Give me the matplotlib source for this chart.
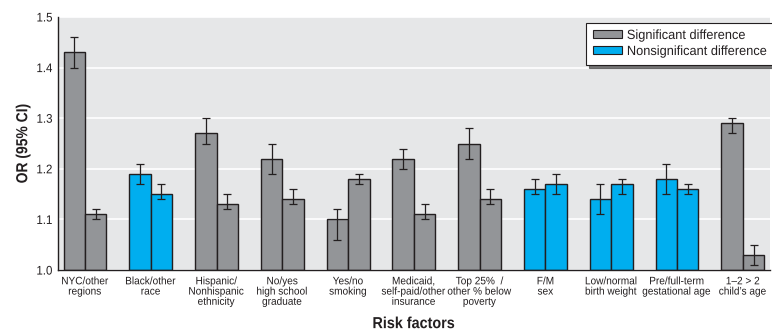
#!/usr/bin/env python3

# Odds ratios (95% CI) by risk factor, two bars per factor
import numpy as np
import matplotlib.pyplot as plt
from matplotlib import patheffects
from matplotlib.transforms import Affine2D

plt.rcParams['font.family'] = ['Liberation Sans', 'DejaVu Sans']

# Data
FACTORS = ["NYC/other\nregions", "Black/other\nrace", "Hispanic/\nNonhispanic\nethnicity",
           "No/yes\nhigh school\ngraduate", "Yes/no\nsmoking", "Medicaid,\nself-paid/other\ninsurance",
           "Top 25%  /\nother % below\npoverty", "F/M\nsex", "Low/normal\nbirth weight",
           "Pre/full-term\ngestational age", "1\u20132 > 2\nchild\u2019s age"]
OR_A = [1.43, 1.19, 1.27, 1.22, 1.10, 1.22, 1.25, 1.16, 1.14, 1.18, 1.29]
LO_A = [1.40, 1.17, 1.25, 1.19, 1.06, 1.20, 1.22, 1.15, 1.11, 1.15, 1.27]
HI_A = [1.46, 1.21, 1.30, 1.25, 1.12, 1.24, 1.28, 1.18, 1.17, 1.21, 1.30]
OR_B = [1.11, 1.15, 1.13, 1.14, 1.18, 1.11, 1.14, 1.17, 1.17, 1.16, 1.03]
LO_B = [1.10, 1.14, 1.12, 1.13, 1.17, 1.10, 1.13, 1.15, 1.15, 1.15, 1.01]
HI_B = [1.12, 1.17, 1.15, 1.16, 1.19, 1.13, 1.16, 1.19, 1.18, 1.17, 1.05]
SIGNIFICANT = [True, False, True, True, True, True, True, False, False, False, True]
YTICKS = [1.0, 1.1, 1.2, 1.3, 1.4, 1.5]
LEGEND_LABELS = ["Significant difference", "Nonsignificant difference"]

GRAY = "#939598"
BLUE = "#00aeef"
EDGE = "#231f20"


class Condense(patheffects.AbstractPathEffect):
    '''Squeeze text along its reading direction (the original uses a condensed typeface).'''

    def __init__(self, s=0.9, anchor="center", vertical=False):
        super().__init__()
        self.s = s
        self.anchor = anchor
        self.vertical = vertical

    def draw_path(self, renderer, gc, tpath, affine, rgbFace=None):
        ext = tpath.get_extents(affine)
        if self.vertical:
            cy = (ext.y0 + ext.y1) / 2
            aff = affine + Affine2D().translate(0, -cy).scale(1, self.s).translate(0, cy)
        else:
            if self.anchor == "left":
                cx = ext.x0
            elif self.anchor == "right":
                cx = ext.x1
            else:
                cx = (ext.x0 + ext.x1) / 2
            aff = affine + Affine2D().translate(-cx, 0).scale(self.s, 1).translate(cx, 0)
        renderer.draw_path(gc, tpath, aff, rgbFace)


fig = plt.figure(figsize=(7.72, 3.33), dpi=100)
ax = fig.add_axes([0.0751, 0.189, 0.922, 0.760])
ax.set_facecolor("#e6e7e8")

x = np.arange(len(FACTORS))
w = 0.326
colors = [GRAY if s else BLUE for s in SIGNIFICANT]

a = np.array(OR_A)
b = np.array(OR_B)
err_a = [a - np.array(LO_A), np.array(HI_A) - a]
err_b = [b - np.array(LO_B), np.array(HI_B) - b]

ax.bar(x - w / 2, a - 1.0, w, bottom=1.0, color=colors, edgecolor=EDGE, linewidth=1.0, zorder=2)
ax.bar(x + w / 2, b - 1.0, w, bottom=1.0, color=colors, edgecolor=EDGE, linewidth=1.0, zorder=2)
ax.errorbar(x - w / 2, a, yerr=err_a, fmt='none', ecolor=EDGE, elinewidth=0.9,
            capsize=2.7, capthick=0.9, zorder=3)
ax.errorbar(x + w / 2, b, yerr=err_b, fmt='none', ecolor=EDGE, elinewidth=0.9,
            capsize=2.7, capthick=0.9, zorder=3)

ax.set_xlim(-0.41, 10.41)
ax.set_ylim(1.0, 1.5)
ax.set_yticks(YTICKS)
ax.set_yticklabels([f"{t:.1f}" for t in YTICKS], fontsize=9, color=EDGE)
ax.yaxis.grid(True, color="white", linewidth=1.2, zorder=0)
ax.set_axisbelow(True)
ax.set_xticks(x)
ax.set_xticklabels(FACTORS, fontsize=7.8, linespacing=1.03, color=EDGE)
ax.tick_params(axis='x', length=0, pad=4.5)
ax.tick_params(axis='y', length=0, pad=4)
for t in ax.get_xticklabels():
    t.set_path_effects([Condense(0.93, "center")])
for t in ax.get_yticklabels():
    t.set_path_effects([Condense(0.92, "right")])

for side in ["top", "right"]:
    ax.spines[side].set_visible(False)
for side in ["left", "bottom"]:
    ax.spines[side].set_color(EDGE)
    ax.spines[side].set_linewidth(1.0)

ylab = ax.set_ylabel("OR (95% CI)", fontsize=11.5, fontweight="bold", color=EDGE)
ylab.set_path_effects([Condense(0.87, vertical=True)])
ax.yaxis.set_label_coords(-0.039, 0.5)
xlab = ax.set_xlabel("Risk factors", fontsize=11.5, fontweight="bold", color=EDGE)
xlab.set_path_effects([Condense(0.9, "center")])
ax.xaxis.set_label_coords(0.5, -0.182)

# legend box runs off the right edge, as in the original
handles = [plt.Rectangle((0, 0), 1, 1, facecolor=GRAY, edgecolor=EDGE, linewidth=0.8),
           plt.Rectangle((0, 0), 1, 1, facecolor=BLUE, edgecolor=EDGE, linewidth=0.8)]
leg = ax.legend(handles, LEGEND_LABELS,
                loc="upper left", bbox_to_anchor=(0.7416, 0.976), fontsize=9.6,
                fancybox=False, shadow={'color': '#555555', 'alpha': 0.8}, framealpha=1,
                edgecolor=EDGE, handlelength=2.18, handleheight=0.5, handletextpad=0.375,
                labelspacing=0.3, borderpad=0.52, borderaxespad=0)
leg.get_frame().set_linewidth(0.8)
for t in leg.get_texts():
    t.set_color(EDGE)
    t.set_path_effects([Condense(0.96, "left")])

plt.savefig("out.png", dpi=100)
